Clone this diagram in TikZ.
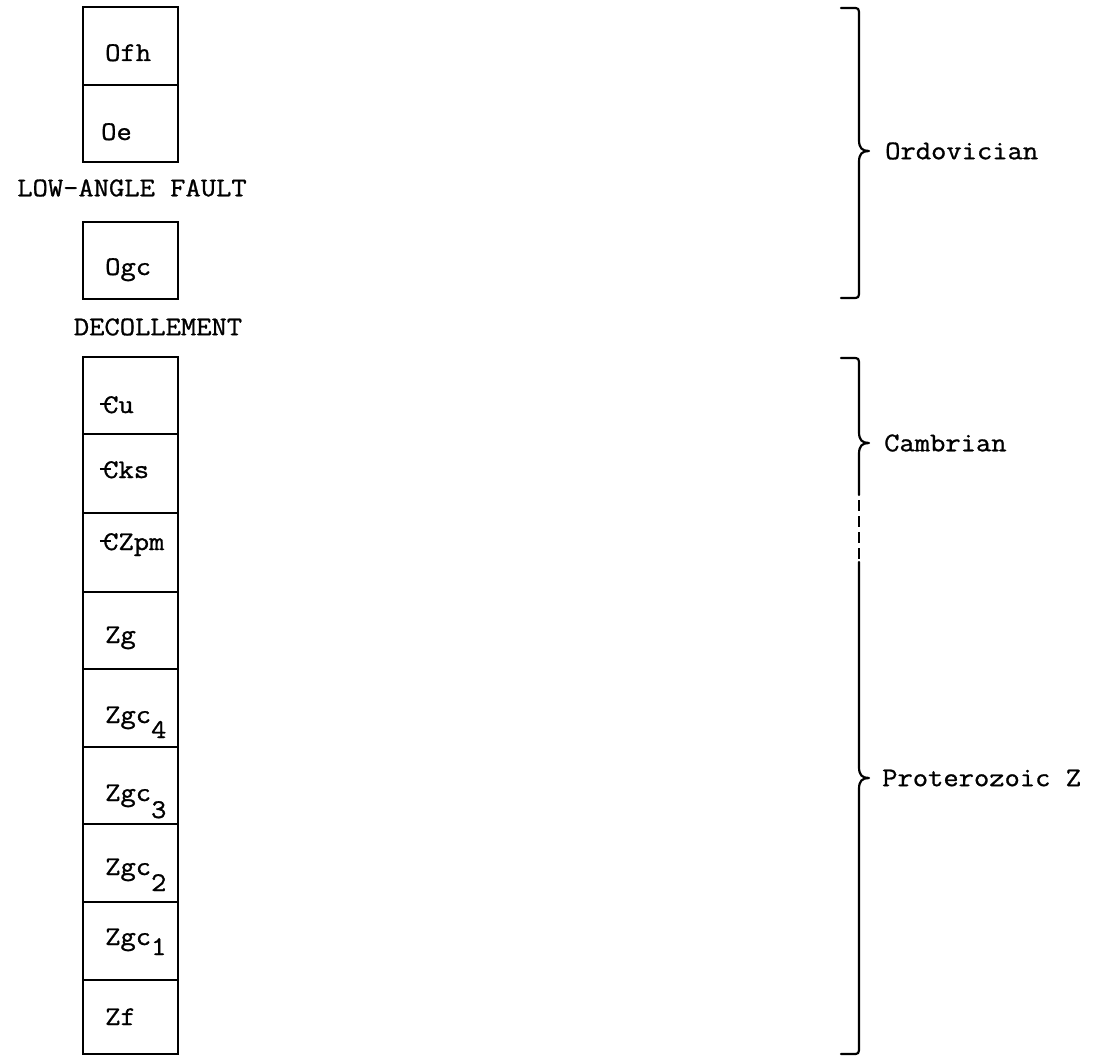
\documentclass[tikz,border=0pt]{standalone}
\usepackage{fontspec}
\newfontfamily\tw[FakeStretch=1.1,FakeBold=1.0]{Latin Modern Mono}
\newcommand\cb{\rlap{\kern-0.12em\raisebox{0.30em}{\rule{0.42em}{0.06em}}}C}
\newcommand\lowr[2]{\raisebox{-#1pt}{#2}}
\tikzset{
  stratbox/.style={draw, line width=2pt, minimum width=95pt, inner sep=0pt, rectangle},
  boxlbl/.style={anchor=base west, inner sep=0pt, font=\tw\fontsize{27}{27}\selectfont},
  txt/.style={inner sep=0pt, font=\tw\fontsize{27}{27}\selectfont},
  brace/.style={line width=2.2pt, line cap=round, line join=round},
}
\newcommand\strat[3]{\node[stratbox, minimum height={(#3-#2)*1pt}] (#1) at (130,{(#2+#3)/2}) {};}
\begin{document}
\begin{tikzpicture}[x=1pt,y=-1pt]
\useasboundingbox (0,0) rectangle (1099,1056);
% upper column
\strat{ofh}{7}{85}
\strat{oe}{85}{162}
\strat{ogc}{222}{299}
% lower column
\strat{cu}{357}{434}
\strat{cks}{434}{513}
\strat{czpm}{513}{592}
\strat{zg}{592}{669}
\strat{zgcf}{669}{747}
\strat{zgct}{747}{824}
\strat{zgcs}{824}{902}
\strat{zgco}{902}{980}
\strat{zf}{980}{1054}
% box labels
\node[boxlbl] (lofh) at (105,61) {Ofh};
\node[boxlbl] (loe) at (101,140) {Oe};
\node[boxlbl] (logc) at (105,275) {Ogc};
\node[boxlbl] (lcu) at (103,413) {\cb u};
\node[boxlbl] (lcks) at (103,478) {\cb ks};
\node[boxlbl] (lczpm) at (103,550) {\cb Zpm};
\node[boxlbl] (lzg) at (105,643) {Zg};
\node[boxlbl] (lzgcf) at (105,723) {Zgc\lowr{15}{4}};
\node[boxlbl] (lzgct) at (105,801) {Zgc\lowr{17}{3}};
\node[boxlbl] (lzgcs) at (105,875) {Zgc\lowr{16}{2}};
\node[boxlbl] (lzgco) at (105,945) {Zgc\lowr{10}{1}};
\node[boxlbl] (lzf) at (105,1025) {Zf};
% interval labels
\node[txt] (fault) at (132,188) {LOW-ANGLE FAULT};
\node[txt] (decol) at (158,327) {DECOLLEMENT};
% Ordovician brace
\coordinate (otip) at (869,151);
\draw[brace] (841,8) -- (852,8) .. controls (859,8) .. (859,16) -- (859,140)
  .. controls (859,148) and (862,151) .. (otip)
  .. controls (862,151) and (859,154) .. (859,162) -- (859,290)
  .. controls (859,298) .. (852,298) -- (841,298);
\node[txt, anchor=west] (ordo) at (885,151) {Ordovician};
% Cambrian / Proterozoic brace
\coordinate (ctip) at (869,443);
\coordinate (ptip) at (869,778);
\draw[brace] (841,358) -- (852,358) .. controls (859,358) .. (859,366) -- (859,432)
  .. controls (859,440) and (862,443) .. (ctip)
  .. controls (862,443) and (859,446) .. (859,454) -- (859,495);
\draw[brace, line cap=butt, dash pattern=on 11pt off 5pt] (859,500) -- (859,562);
\draw[brace] (859,562) -- (859,767)
  .. controls (859,775) and (862,778) .. (ptip)
  .. controls (862,778) and (859,781) .. (859,789) -- (859,1046)
  .. controls (859,1054) .. (852,1054) -- (841,1054);
\node[txt, anchor=west] (camb) at (884,443) {Cambrian};
\node[txt, anchor=west] (prot) at (882,778) {Proterozoic Z};
\end{tikzpicture}
\end{document}
